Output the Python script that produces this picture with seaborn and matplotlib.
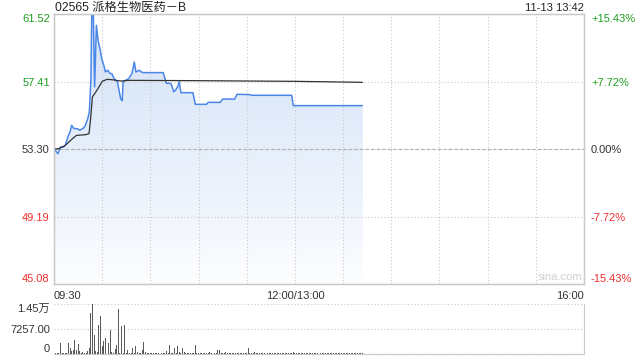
import numpy as np
import pandas as pd
import matplotlib
matplotlib.use("Agg")
import matplotlib.pyplot as plt
import seaborn as sns

# ---------------- data ----------------
title = "02565 派格生物医药－B"
stamp = "11-13 13:42"
prev_close = 53.30
price_ticks = [45.08, 49.19, 53.30, 57.41, 61.52]
price_labels = ["45.08", "49.19", "53.30", "57.41", "61.52"]
pct_labels = ["-15.43%", "-7.72%", "0.00%", "+7.72%", "+15.43%"]
time_ticks = [0, 30, 60, 90, 120, 150, 180, 210, 240, 270, 300, 330]
time_labels = ["09:30", "", "", "", "", "12:00/13:00", "", "", "", "", "", "16:00"]
vol_ticks = [0, 7257, 14514]
vol_labels = ["0", "7257.00", "1.45万"]

# minutes since 09:30 (lunch break removed) and price
price_min = [0, 2.5, 4, 6, 7, 8, 9, 10, 11, 12.5, 14.5, 16, 18.5, 19.5, 21, 22,
             23, 23.5, 24.5, 25.3, 26.4, 27.4, 28.6, 29.7, 31, 32, 33.5, 35, 36,
             37.5, 39.5, 40.5, 41.5, 42.5, 43, 44.5, 46.5, 48.5, 50, 51, 53, 54.5,
             55.5, 68, 70, 72, 73, 74.5, 75.5, 77, 78, 79, 86.5, 88, 95, 96, 103.5,
             105, 112.5, 114, 122, 123, 148, 149, 192]
price_val = [53.32, 53.01, 53.42, 53.42, 53.52, 53.83, 54.13, 54.34, 54.74, 54.54,
             54.54, 54.44, 54.58, 54.74, 55.14, 55.55, 57.58, 61.44, 61.44, 57.08,
             60.83, 59.92, 59.41, 58.80, 58.40, 57.99, 58.09, 57.89, 57.89, 57.58,
             57.38, 56.87, 56.36, 56.24, 57.38, 57.48, 57.58, 57.89, 58.60, 57.99,
             58.09, 57.99, 57.95, 57.95, 57.30, 57.30, 57.25, 56.79, 56.85, 57.09,
             57.40, 56.73, 56.73, 56.02, 56.02, 56.14, 56.14, 56.34, 56.34, 56.63,
             56.61, 56.57, 56.57, 55.94, 55.94]

avg_min = [0, 3, 7, 11.5, 14, 19.5, 21.8, 22.8, 23.9, 26, 28, 30, 33, 36, 41.5, 47,
           90, 150, 192]
avg_val = [53.30, 53.32, 53.52, 53.93, 54.13, 54.17, 54.23, 55.14, 56.47, 56.77,
           57.08, 57.42, 57.54, 57.52, 57.44, 57.48, 57.46, 57.42, 57.36]

volume = [
    200, 300, 150, 200, 3240, 300, 400, 150, 200, 3240,
    1770, 780, 1270, 3920, 1270, 2940, 780, 300, 500, 300,
    300, 780, 1770, 11870, 14514, 5390, 780, 500, 8340, 11000,
    2250, 3730, 4700, 3730, 3240, 6870, 500, 300, 1470, 2750,
    13050, 300, 8140, 300, 8340, 300, 1270, 300, 200, 1770,
    300, 2450, 500, 300, 200, 1270, 3430, 500, 300, 200,
    200, 300, 200, 250, 200, 300, 200, 250, 300, 200,
    780, 300, 2750, 300, 200, 1770, 300, 2450, 500, 300,
    1770, 500, 200, 300, 200, 250, 300, 200, 2750, 300,
    200, 300, 250, 200, 300, 200, 250, 500, 200, 300,
    250, 200, 1270, 1270, 300, 200, 250, 500, 200, 300,
    250, 200, 300, 200, 250, 300, 200, 250, 300, 200,
    300, 1770, 250, 200, 300, 500, 200, 250, 300, 200,
    250, 300, 200, 250, 300, 200, 250, 200, 300, 250,
    200, 300, 250, 200, 300, 250, 200, 300, 250, 500,
    300, 200, 250, 300, 200, 250, 300, 200, 250, 300,
    200, 250, 300, 200, 250, 500, 200, 250, 300, 200,
    250, 300, 200, 250, 300, 200, 250, 300, 200, 250,
    300, 200, 250, 300, 200, 250, 300, 200, 250, 300,
    200, 250, 300,
]

# ---------------- style ----------------
sns.set_style("white")
plt.rcParams["font.family"] = ["Liberation Sans", "Noto Sans CJK SC", "DejaVu Sans"]

GREEN = "#1f9e1f"
RED = "#ee2e2e"
DARK = "#333333"
GRID = "#c8c8c8"
FRAME = "#c8c8c8"

W, H = 640, 360
fig = plt.figure(figsize=(6.4, 3.6), dpi=100)
ax = fig.add_axes([54 / W, 1 - 284 / H, 530 / W, 270 / H])
axv = fig.add_axes([54 / W, 1 - 354 / H, 530 / W, 50 / H])

ymin, ymax = price_ticks[0], price_ticks[-1]
xmax = time_ticks[-1]

# fill under the price line, faded toward the bottom with a white overlay
df = pd.DataFrame({"t": price_min, "p": price_val})
ax.fill_between(df["t"], df["p"], ymin, color="#d6e4f8", lw=0, zorder=1)
alpha = np.linspace(0.97, 0.0, 256) ** 1.3
fade = np.ones((256, 4, 4))
fade[:, :, 3] = alpha[:, None]
ax.imshow(fade, extent=[0, xmax, ymin, ymax], origin="lower",
          aspect="auto", zorder=1.5, interpolation="nearest")

sns.lineplot(data=df, x="t", y="p", ax=ax, color="#4a86e8", lw=1.1,
             estimator=None, sort=False, zorder=4)
sns.lineplot(x=avg_min, y=avg_val, ax=ax, color="#333333", lw=0.9,
             estimator=None, sort=False, zorder=5)

ax.set_xlim(0, xmax)
ax.set_ylim(ymin, ymax)
ax.set_xlabel("")
ax.set_ylabel("")
ax.set_xticks(time_ticks)
ax.set_xticklabels(time_labels)
ax.set_yticks(price_ticks)
ax.set_yticklabels(price_labels)
ax.grid(True, ls=(0, (1, 2)), color=GRID, lw=0.8, zorder=2)
ax.set_axisbelow(False)
ax.axhline(prev_close, ls=(0, (3, 2)), color="#b0b0b0", lw=0.8, zorder=3)
ax.tick_params(axis="y", length=0, pad=3, labelsize=8)
ax.tick_params(axis="x", length=0, pad=5, labelsize=8, labelcolor=DARK)
for s in ax.spines.values():
    s.set_color(FRAME)
    s.set_linewidth(0.9)
    s.set_zorder(6)

ycolors = [RED, RED, DARK, GREEN, GREEN]
ylabs = ax.get_yticklabels()
for lab, c in zip(ylabs, ycolors):
    lab.set_color(c)
ylabs[0].set_va("bottom")
ylabs[-1].set_va("top")
xlabs = ax.get_xticklabels()
xlabs[0].set_ha("left")
xlabs[-1].set_ha("right")

ax2 = ax.twinx()
ax2.set_ylim(ymin, ymax)
ax2.set_yticks(price_ticks)
ax2.set_yticklabels(pct_labels)
ax2.tick_params(axis="y", length=0, pad=5, labelsize=8)
ax2.grid(False)
for s in ax2.spines.values():
    s.set_color(FRAME)
    s.set_linewidth(0.9)
rlabs = ax2.get_yticklabels()
for lab, c in zip(rlabs, ycolors):
    lab.set_color(c)
rlabs[0].set_va("bottom")
rlabs[-1].set_va("top")

# volume panel
axv.bar(np.arange(len(volume)), volume, width=0.6, color="#5a5a5a", lw=0, zorder=3)
axv.set_xlim(0, xmax)
axv.set_ylim(vol_ticks[0], vol_ticks[-1])
axv.set_xticks([])
axv.set_yticks(vol_ticks)
axv.set_yticklabels(vol_labels)
axv.tick_params(axis="y", length=0, pad=3, labelsize=8, labelcolor=DARK)
axv.grid(True, axis="y", ls=(0, (1, 2)), color=GRID, lw=0.8, zorder=1)
axv.spines["left"].set_visible(False)
axv.spines["top"].set_visible(False)
axv.spines["right"].set_color(FRAME)
axv.spines["bottom"].set_color(FRAME)
vlabs = axv.get_yticklabels()
vlabs[0].set_va("bottom")
vlabs[-1].set_va("top")

# header texts and watermark
fig.text(55 / W, 1 - 8 / H, title, fontsize=8.8, ha="left", va="center", color="#222222")
fig.text(584 / W, 1 - 8 / H, stamp, fontsize=8, ha="right", va="center", color="#222222")
fig.text(582 / W, 1 - 277 / H, "sina.com", fontsize=8, ha="right", va="center",
         color="#d0d0d0")

fig.savefig("out.png", dpi=100)
